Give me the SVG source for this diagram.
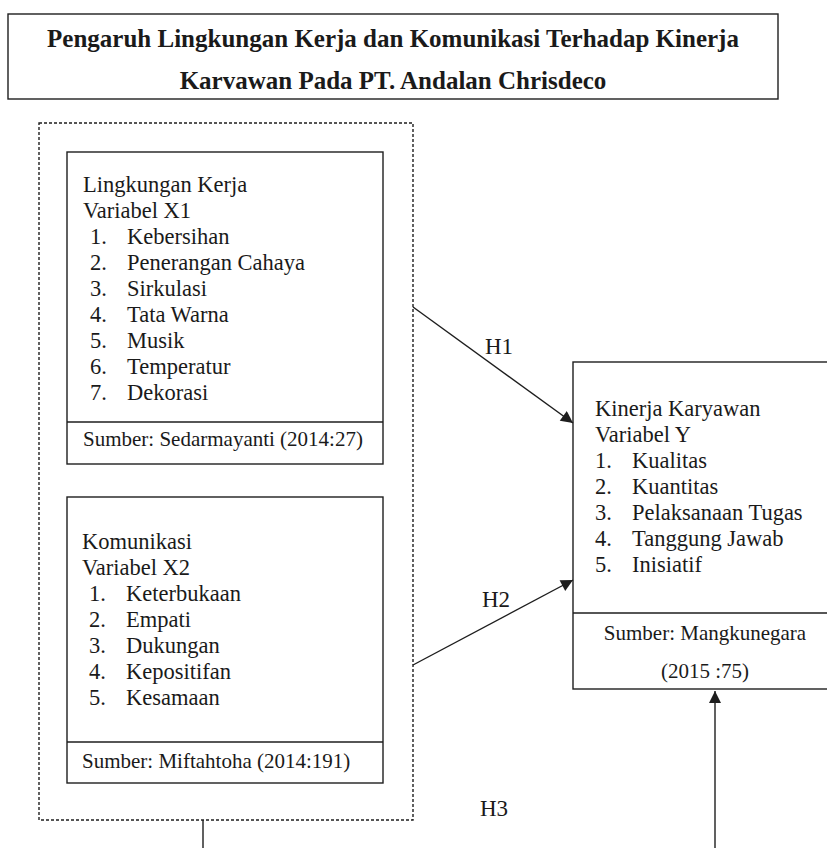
<svg xmlns="http://www.w3.org/2000/svg" width="827" height="848" viewBox="0 0 827 848">
  <style>
    .box { fill: #ffffff; stroke: #1e1e1e; stroke-width: 1.4; }
    .div { stroke: #1e1e1e; stroke-width: 1.4; }
    .dash { fill: none; stroke: #1e1e1e; stroke-width: 1.4; stroke-dasharray: 3 2; }
    .conn { fill: none; stroke: #1e1e1e; stroke-width: 1.4; }
    text { fill: #1a1a1a; }
    .t { font-size: 25px; font-weight: bold; text-anchor: middle; }
    .b { font-size: 22.5px; }
    .s { font-size: 21px; }
    .h { font-size: 23px; }
  </style>
  <defs>
    <marker id="arrow" viewBox="0 0 12 12" refX="12" refY="6" markerWidth="13" markerHeight="12" markerUnits="userSpaceOnUse" orient="auto">
      <path d="M0,0 L12,6 L0,12 z" fill="#1e1e1e"/>
    </marker>
  </defs>
  <rect width="827" height="848" fill="#ffffff"/>

  <g font-family="'Liberation Serif', 'Times New Roman', 'DejaVu Serif', serif">
  <g id="title">
    <rect class="box" x="8" y="14" width="770" height="85"/>
    <text class="t" x="393" y="47">Pengaruh Lingkungan Kerja dan Komunikasi Terhadap Kinerja</text>
    <text class="t" x="393" y="89">Karvawan Pada PT. Andalan Chrisdeco</text>
  </g>

  <g id="group-x">
    <rect class="dash" x="39" y="123" width="374" height="697"/>
  </g>

  <g id="node-x1">
    <rect class="box" x="67" y="152" width="316" height="312"/>
    <line class="div" x1="67" y1="422" x2="383" y2="422"/>
    <text class="b" x="83" y="192">Lingkungan Kerja</text>
    <text class="b" x="83" y="218">Variabel X1</text>
    <text class="b" x="90" y="244">1.</text><text class="b" x="127" y="244">Kebersihan</text>
    <text class="b" x="90" y="270">2.</text><text class="b" x="127" y="270">Penerangan Cahaya</text>
    <text class="b" x="90" y="296">3.</text><text class="b" x="127" y="296">Sirkulasi</text>
    <text class="b" x="90" y="322">4.</text><text class="b" x="127" y="322">Tata Warna</text>
    <text class="b" x="90" y="348">5.</text><text class="b" x="127" y="348">Musik</text>
    <text class="b" x="90" y="374">6.</text><text class="b" x="127" y="374">Temperatur</text>
    <text class="b" x="90" y="400">7.</text><text class="b" x="127" y="400">Dekorasi</text>
    <text class="s" x="83" y="446">Sumber: Sedarmayanti (2014:27)</text>
  </g>

  <g id="node-x2">
    <rect class="box" x="67" y="497" width="316" height="286"/>
    <line class="div" x1="67" y1="742" x2="383" y2="742"/>
    <text class="b" x="82" y="549">Komunikasi</text>
    <text class="b" x="82" y="575">Variabel X2</text>
    <text class="b" x="89" y="601">1.</text><text class="b" x="126" y="601">Keterbukaan</text>
    <text class="b" x="89" y="627">2.</text><text class="b" x="126" y="627">Empati</text>
    <text class="b" x="89" y="653">3.</text><text class="b" x="126" y="653">Dukungan</text>
    <text class="b" x="89" y="679">4.</text><text class="b" x="126" y="679">Kepositifan</text>
    <text class="b" x="89" y="705">5.</text><text class="b" x="126" y="705">Kesamaan</text>
    <text class="s" x="82" y="768">Sumber: Miftahtoha (2014:191)</text>
  </g>

  <g id="node-y">
    <rect class="box" x="573" y="362" width="264" height="327"/>
    <line class="div" x1="573" y1="613" x2="837" y2="613"/>
    <text class="b" x="595" y="416">Kinerja Karyawan</text>
    <text class="b" x="595" y="442">Variabel Y</text>
    <text class="b" x="595" y="468">1.</text><text class="b" x="632" y="468">Kualitas</text>
    <text class="b" x="595" y="494">2.</text><text class="b" x="632" y="494">Kuantitas</text>
    <text class="b" x="595" y="520">3.</text><text class="b" x="632" y="520">Pelaksanaan Tugas</text>
    <text class="b" x="595" y="546">4.</text><text class="b" x="632" y="546">Tanggung Jawab</text>
    <text class="b" x="595" y="572">5.</text><text class="b" x="632" y="572">Inisiatif</text>
    <text class="s" x="705" y="640" text-anchor="middle">Sumber: Mangkunegara</text>
    <text class="s" x="705" y="678" text-anchor="middle">(2015 :75)</text>
  </g>

  <g id="connectors">
    <line class="conn" x1="413" y1="307" x2="573" y2="423" marker-end="url(#arrow)"/>
    <line class="conn" x1="413" y1="665" x2="573" y2="580" marker-end="url(#arrow)"/>
    <line class="conn" x1="203" y1="820" x2="203" y2="848"/>
    <line class="conn" x1="715" y1="848" x2="715" y2="691" marker-end="url(#arrow)"/>
    <text class="h" x="485" y="354">H1</text>
    <text class="h" x="482" y="607">H2</text>
    <text class="h" x="480" y="816">H3</text>
  </g>
  </g>
</svg>
